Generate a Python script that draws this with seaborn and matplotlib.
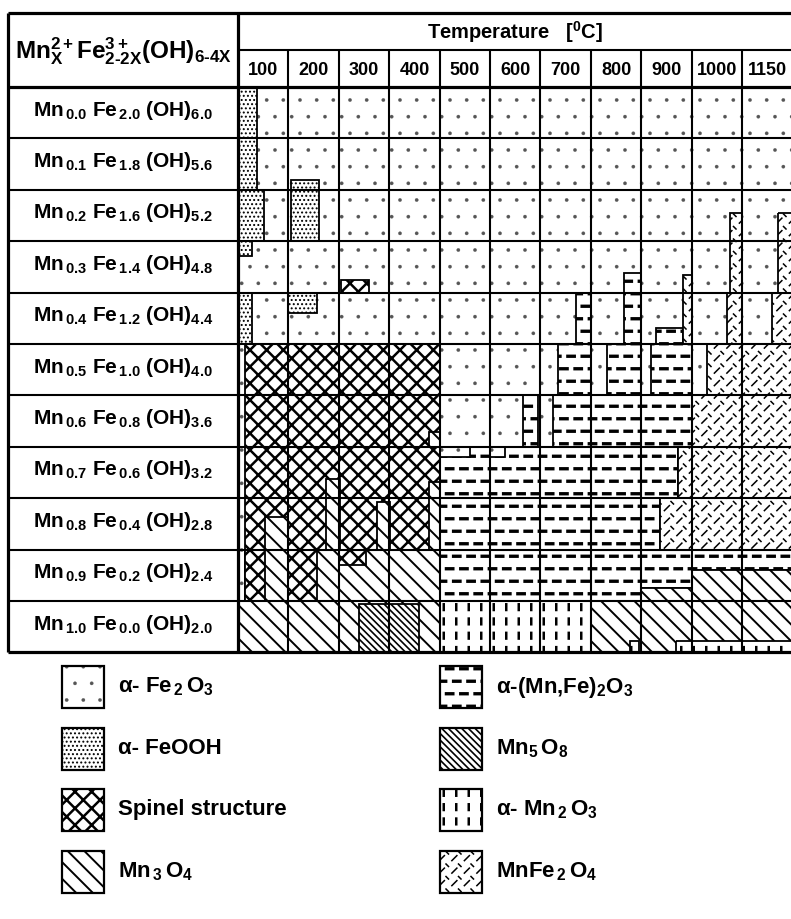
import warnings
warnings.filterwarnings('ignore')
import numpy as np
import matplotlib
matplotlib.use('Agg')
import matplotlib.pyplot as plt
import matplotlib.hatch as mhatch
from matplotlib.patches import Rectangle
from matplotlib.path import Path
from matplotlib import font_manager
import seaborn as sns

# ---------------- data ----------------
temps = ['100', '200', '300', '400', '500', '600', '700', '800', '900', '1000', '1150']
mn_x = ['0.0', '0.1', '0.2', '0.3', '0.4', '0.5', '0.6', '0.7', '0.8', '0.9', '1.0']
fe_y = ['2.0', '1.8', '1.6', '1.4', '1.2', '1.0', '0.8', '0.6', '0.4', '0.2', '0.0']
oh_z = ['6.0', '5.6', '5.2', '4.8', '4.4', '4.0', '3.6', '3.2', '2.8', '2.4', '2.0']

phase_keys = ['Fe2O3', 'FeOOH', 'Spinel', 'Mn3O4', 'MnFe2O3', 'Mn5O8', 'Mn2O3', 'MnFe2O4']
phase_labels = [r'α- Fe$_{\,2}\,$O$_{3}$', 'α- FeOOH', 'Spinel structure', r'Mn$_{\,3}\,$O$_{4}$',
                r'α-(Mn,Fe)$_{2}$O$_{3}$', r'Mn$_{5}\,$O$_{8}$', r'α- Mn$_{\,2}\,$O$_{3}$',
                r'MnFe$_{\,2}\,$O$_{4}$']

# phase regions: column units (0 = left edge of 100 °C column), row units (0 = top of Mn0.0 row)
reg_phase = ['Fe2O3', 'Mn3O4',
             'FeOOH', 'FeOOH', 'FeOOH', 'FeOOH', 'Spinel', 'FeOOH', 'FeOOH',
             'MnFe2O3', 'MnFe2O3', 'MnFe2O3', 'MnFe2O4', 'MnFe2O4', 'MnFe2O4', 'MnFe2O4', 'MnFe2O4',
             'Spinel', 'Mn3O4', 'Spinel', 'Spinel', 'Spinel',
             'Mn3O4', 'Mn3O4', 'Mn3O4', 'Mn3O4', 'Mn3O4',
             'MnFe2O3', 'MnFe2O3', 'MnFe2O3', 'MnFe2O4',
             'MnFe2O3', 'MnFe2O3', 'MnFe2O4',
             'MnFe2O3', 'Fe2O3', 'Fe2O3', 'MnFe2O4',
             'MnFe2O3', 'MnFe2O4',
             'MnFe2O3', 'MnFe2O3', 'Mn3O4', 'MnFe2O3', 'Mn3O4',
             'Mn5O8', 'Mn2O3', 'Mn2O3', 'Mn2O3']
reg_t0 = [0.0, 0.0,
          0.0, 0.0, 1.05, 0.0, 2.04, 0.0, 1.0,
          7.65, 6.7, 8.3, 8.82, 9.77, 9.7, 10.72, 10.6,
          0.14, 0.14, 0.14, 1.0, 2.0,
          3.78, 3.78, 1.75, 0.54, 2.76,
          6.35, 7.33, 8.2, 9.3,
          5.65, 6.25, 9.0,
          4.0, 4.0, 5.0, 8.73,
          4.0, 8.37,
          4.0, 8.0, 8.0, 9.0, 9.0,
          2.4, 4.0, 7.78, 8.7]
reg_t1 = [11.0, 11.0,
          0.37, 0.52, 1.6, 0.28, 2.6, 0.28, 1.56,
          8.0, 7.0, 8.82, 9.0, 10.0, 10.0, 11.0, 11.0,
          4.0, 4.0, 0.54, 1.57, 2.54,
          4.0, 4.0, 2.02, 1.0, 3.02,
          7.0, 8.0, 9.0, 11.0,
          5.95, 9.0, 11.0,
          8.73, 4.6, 5.3, 11.0,
          8.37, 11.0,
          8.0, 9.0, 9.0, 11.0, 11.0,
          3.6, 7.0, 7.96, 11.0]
reg_r0 = [0.0, 10.0,
          0.0, 2.0, 1.8, 3.0, 3.76, 4.0, 4.0,
          3.62, 4.0, 4.68, 3.66, 2.45, 4.0, 2.45, 4.0,
          5.0, 9.0, 9.0, 9.0, 9.0,
          6.72, 7.68, 7.62, 8.37, 8.07,
          5.0, 5.0, 5.0, 5.0,
          6.0, 6.0, 6.0,
          7.0, 7.0, 7.0, 7.0,
          8.0, 8.0,
          9.0, 9.0, 9.75, 9.0, 9.4,
          10.05, 10.0, 10.78, 10.78]
reg_r1 = [10.0, 11.0,
          2.0, 3.0, 3.0, 3.28, 4.0, 5.0, 4.4,
          5.0, 5.0, 5.0, 5.0, 4.0, 5.0, 4.0, 5.0,
          9.0, 10.0, 10.0, 10.0, 9.3,
          7.0, 9.0, 9.0, 9.0, 9.0,
          6.0, 6.0, 6.0, 6.0,
          7.0, 7.0, 7.0,
          8.0, 7.2, 7.2, 8.0,
          9.0, 9.0,
          10.0, 9.75, 10.0, 9.4, 10.0,
          11.0, 11.0, 11.0, 11.0]


# ---------------- custom hatches ----------------
def _no_validate(h):
    return None


mhatch._validate_hatch_pattern = _no_validate


class _SegHatch(mhatch.HatchPatternBase):
    char = '?'

    def __init__(self, hatch, density):
        if hatch and self.char in hatch:
            self.segs = np.asarray(self.make(), dtype=float).reshape(-1, 2, 2)
        else:
            self.segs = np.zeros((0, 2, 2))
        self.num_vertices = 2 * len(self.segs)

    def set_vertices_and_codes(self, vertices, codes):
        vertices[:] = self.segs.reshape(-1, 2)
        codes[0::2] = Path.MOVETO
        codes[1::2] = Path.LINETO


class DashRows(_SegHatch):
    char = 'd'

    def make(self):
        segs = []
        nr, nc = 8, 7
        for i in range(nr):
            y = (i + 0.5) / nr
            off = 0.5 if i % 2 else 0.0
            for j in range(nc):
                a = ((j + off + 0.25) / nc) % 1.0
                b = a + 0.45 / nc
                if b <= 1.0:
                    segs.append([[a, y], [b, y]])
                else:
                    segs.append([[a, y], [1.0, y]])
                    segs.append([[0.0, y], [b - 1.0, y]])
        return segs


class VertDash(_SegHatch):
    char = 'v'

    def make(self):
        segs = []
        nr, nc = 7, 8
        for i in range(nr):
            for j in range(nc):
                x = (j + 0.5) / nc
                segs.append([[x, (i + 0.3) / nr], [x, (i + 0.7) / nr]])
        return segs


class DashCross(_SegHatch):
    char = 'm'

    def make(self):
        segs = []
        n = 8
        s = 1.0 / n
        for i in range(n):
            for j in range(n):
                x, y = i * s, j * s
                segs.append([[x + 0.15 * s, y + 0.15 * s], [x + 0.55 * s, y + 0.55 * s]])
                segs.append([[x + 0.68 * s, y + 0.88 * s], [x + 0.88 * s, y + 0.68 * s]])
        return segs


mhatch._hatch_types.extend([DashRows, VertDash, DashCross])

# hatch pattern, hatch line width, hatch colour
STYLE = {
    'Fe2O3': ('.', 0.2, '#555555'),
    'FeOOH': ('....', 0.9, 'black'),
    'Spinel': ('xx', 1.8, 'black'),
    'Mn3O4': ('\\\\', 1.4, 'black'),
    'MnFe2O3': ('d', 2.4, 'black'),
    'Mn5O8': ('\\\\\\\\\\', 1.2, 'black'),
    'Mn2O3': ('v', 1.8, 'black'),
    'MnFe2O4': ('m', 1.1, 'black'),
}

# ---------------- style ----------------
sns.set_theme(style='white')
names = {f.name for f in font_manager.fontManager.ttflist}
FAM = 'Liberation Sans Narrow' if 'Liberation Sans Narrow' in names else 'Liberation Sans'
plt.rcParams['font.family'] = [FAM, 'Liberation Sans', 'DejaVu Sans']
plt.rcParams['font.weight'] = 'bold'
plt.rcParams['text.color'] = 'black'
plt.rcParams['mathtext.fontset'] = 'custom'
plt.rcParams['mathtext.rm'] = FAM + ':bold'
plt.rcParams['mathtext.it'] = FAM + ':bold'
plt.rcParams['mathtext.bf'] = FAM + ':bold'
plt.rcParams['mathtext.sf'] = FAM + ':bold'
plt.rcParams['mathtext.default'] = 'bf'
plt.rcParams['hatch.linewidth'] = 1.2


def hatched_rect(axis, xy, w, h, phase, lw=1.3, z=2):
    hatch, hlw, hcol = STYLE[phase]
    with plt.rc_context({'hatch.linewidth': hlw}):
        p = Rectangle(xy, w, h, facecolor='white', edgecolor=hcol, hatch=hatch,
                      lw=0, zorder=z)
    try:
        p.set_hatch_linewidth(hlw)
    except AttributeError:
        pass
    axis.add_patch(p)
    axis.add_patch(Rectangle(xy, w, h, fill=False, edgecolor='black', lw=lw, zorder=z))
    return p


fig = plt.figure(figsize=(7.91, 9.19), dpi=100, facecolor='white')
X0, X1 = -4.563, 10.972
Y0, Y1 = -1.44, 11.0
ax = fig.add_axes([8 / 791, 1 - 652.4 / 919, 1 - 8 / 791, (652.4 - 13) / 919])
ax.set_xlim(X0, X1)
ax.set_ylim(Y1, Y0)
ax.axis('off')

for ph, t0, t1, r0, r1 in zip(reg_phase, reg_t0, reg_t1, reg_r0, reg_r1):
    hatched_rect(ax, (t0, r0), t1 - t0, r1 - r0, ph)

# table grid
LW_IN, LW_OUT = 1.5, 2.3
kw = dict(colors='black', clip_on=False, zorder=5)
ax.vlines(np.arange(1, 11), -0.72, 11.0, lw=LW_IN, **kw)
ax.vlines([0.0], Y0, 11.0, lw=LW_OUT, **kw)
ax.vlines([X0], Y0, 11.0, lw=LW_OUT, **kw)
ax.hlines(np.arange(1, 11), X0, X1, lw=LW_IN, **kw)
ax.hlines([0.0, 11.0, Y0], X0, X1, lw=LW_OUT, **kw)
ax.hlines([-0.72], 0.0, X1, lw=LW_IN, **kw)

# header texts
ax.text(-2.28, -0.70, r'Mn$^{2+}_{X}$Fe$^{3+}_{2\text{-}2X}$(OH)$_{6\text{-}4X}$',
        ha='center', va='center', fontsize=17.5, zorder=6)
ax.text(5.5, -1.07, r'Temperature   [$^{0}$C]', ha='center', va='center', fontsize=14.5, zorder=6)
for k, t in enumerate(temps):
    ax.text(k + 0.5, -0.33, t, ha='center', va='center', fontsize=13, zorder=6)
for k in range(len(mn_x)):
    lab = r'Mn$_{\,%s}$ Fe$_{\,%s}$ (OH)$_{%s}$' % (mn_x[k], fe_y[k], oh_z[k])
    ax.text(-2.28, k + 0.45, lab, ha='center', va='center', fontsize=15, zorder=6)

# legend
lax = fig.add_axes([0, 0, 1, 1])
lax.set_xlim(0, 791)
lax.set_ylim(919, 0)
lax.axis('off')
lax.patch.set_alpha(0)
col_x = [62, 440]
row_top = [666, 728, 789, 851]
BOX = 42
for i, (key, lab) in enumerate(zip(phase_keys, phase_labels)):
    cx = col_x[i // 4]
    ty = row_top[i % 4]
    hatched_rect(lax, (cx, ty), BOX, BOX, key, lw=1.6)
    lax.text(cx + BOX + 14, ty + BOX / 2, lab, ha='left', va='center', fontsize=16)

fig.savefig('out.png', dpi=100, facecolor='white')
